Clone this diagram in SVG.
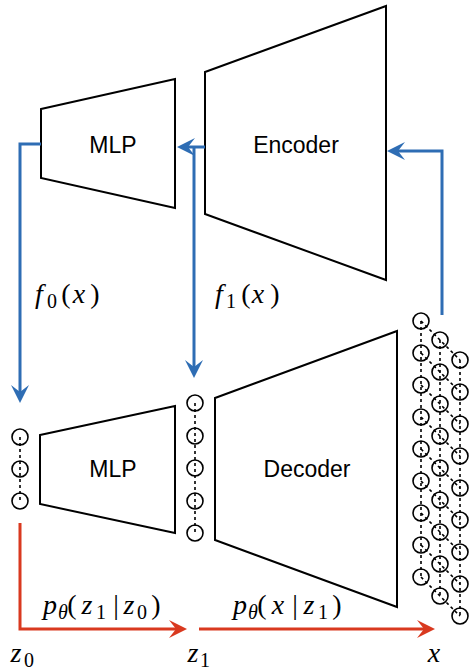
<svg xmlns="http://www.w3.org/2000/svg" width="472" height="670" viewBox="0 0 472 670">
<style>
.shape{fill:#fff;stroke:#000;stroke-width:2;stroke-linejoin:miter}
.lbl{font-family:"Liberation Sans",Arial,Helvetica,sans-serif;font-size:23px;fill:#000;text-anchor:middle}
.m{font-family:'Liberation Serif','Times New Roman',serif;font-style:italic;fill:#000;text-anchor:middle;font-size:28px}
.u{font-style:normal}
.s{font-size:20px}
.node{fill:none;stroke:#000;stroke-width:1.6}
.dash{fill:none;stroke:#000;stroke-width:1.6;stroke-dasharray:3 3}
.blue{fill:none;stroke:#2E6DB4;stroke-width:3;marker-end:url(#ab)}
.red{fill:none;stroke:#D9391F;stroke-width:3;marker-end:url(#ar)}
</style>
<defs>
<marker id="ab" viewBox="0 0 18 18" refX="7" refY="9" markerWidth="18" markerHeight="18" markerUnits="userSpaceOnUse" orient="auto"><path d="M0,0 L18,9 L0,18 L7,9 Z" fill="#2E6DB4"/></marker>
<marker id="ar" viewBox="0 0 18 18" refX="7" refY="9" markerWidth="18" markerHeight="18" markerUnits="userSpaceOnUse" orient="auto"><path d="M0,0 L18,9 L0,18 L7,9 Z" fill="#D9391F"/></marker>
</defs>
<rect width="472" height="670" fill="#fff"/>

<g id="mlp-top">
<polygon class="shape" points="41,109 175,79 175,208 41,178"/>
<text class="lbl" x="113" y="153">MLP</text>
</g>
<g id="encoder">
<polygon class="shape" points="205,72 386,6 386,280 205,214"/>
<text class="lbl" x="296" y="153">Encoder</text>
</g>
<g id="mlp-bottom">
<polygon class="shape" points="40,435 175,406 175,533 40,504"/>
<text class="lbl" x="113" y="477">MLP</text>
</g>
<g id="decoder">
<polygon class="shape" points="215,398 397,331 397,607 215,540"/>
<text class="lbl" x="307" y="477">Decoder</text>
</g>

<g id="z0-nodes">
<path class="dash" d="M20,437 V501"/>
<circle class="node" cx="20" cy="437" r="8"/>
<circle class="node" cx="20" cy="469" r="8"/>
<circle class="node" cx="20" cy="501" r="8"/>
</g>
<g id="z1-nodes">
<path class="dash" d="M195,403 V533"/>
<circle class="node" cx="195" cy="403" r="8"/>
<circle class="node" cx="195" cy="436" r="8"/>
<circle class="node" cx="195" cy="468" r="8"/>
<circle class="node" cx="195" cy="501" r="8"/>
<circle class="node" cx="195" cy="533" r="8"/>
</g>
<g id="x-nodes">
<path class="dash" d="M421,321 V577 M440,340 V596 M460,360 V616"/>
<path class="dash" d="M421,321 L440,340 L460,360 M421,353 L440,372 L460,392 M421,385 L440,404 L460,424 M421,417 L440,436 L460,456 M421,449 L440,468 L460,488 M421,481 L440,500 L460,520 M421,513 L440,532 L460,552 M421,545 L440,564 L460,584 M421,577 L440,596 L460,616"/>
<g>
<circle class="node" cx="421" cy="321" r="8"/><circle class="node" cx="421" cy="353" r="8"/><circle class="node" cx="421" cy="385" r="8"/><circle class="node" cx="421" cy="417" r="8"/><circle class="node" cx="421" cy="449" r="8"/><circle class="node" cx="421" cy="481" r="8"/><circle class="node" cx="421" cy="513" r="8"/><circle class="node" cx="421" cy="545" r="8"/><circle class="node" cx="421" cy="577" r="8"/>
<circle class="node" cx="440" cy="340" r="8"/><circle class="node" cx="440" cy="372" r="8"/><circle class="node" cx="440" cy="404" r="8"/><circle class="node" cx="440" cy="436" r="8"/><circle class="node" cx="440" cy="468" r="8"/><circle class="node" cx="440" cy="500" r="8"/><circle class="node" cx="440" cy="532" r="8"/><circle class="node" cx="440" cy="564" r="8"/><circle class="node" cx="440" cy="596" r="8"/>
<circle class="node" cx="460" cy="360" r="8"/><circle class="node" cx="460" cy="392" r="8"/><circle class="node" cx="460" cy="424" r="8"/><circle class="node" cx="460" cy="456" r="8"/><circle class="node" cx="460" cy="488" r="8"/><circle class="node" cx="460" cy="520" r="8"/><circle class="node" cx="460" cy="552" r="8"/><circle class="node" cx="460" cy="584" r="8"/><circle class="node" cx="460" cy="616" r="8"/>
</g>
</g>

<g id="connectors">
<path class="blue" d="M205,147 H188"/>
<path class="blue" d="M194,147 V367"/>
<path class="blue" d="M41,144 H20 V392"/>
<path class="blue" d="M442,315 V151 H398"/>
<path class="red" d="M20,523 V629 H176"/>
<path class="red" d="M199,629 H424"/>
</g>

<g id="labels">
<text class="m" y="303"><tspan x="39">f</tspan><tspan class="u s" x="52" y="308">0</tspan><tspan class="u" x="66" y="303">(</tspan><tspan x="79">x</tspan><tspan class="u" x="95">)</tspan></text>
<text class="m" y="303"><tspan x="219">f</tspan><tspan class="u s" x="231" y="308">1</tspan><tspan class="u" x="246" y="303">(</tspan><tspan x="258">x</tspan><tspan class="u" x="275">)</tspan></text>
<text class="m" y="614"><tspan x="50">p</tspan><tspan class="s" x="63" y="619">θ</tspan><tspan class="u" x="72" y="614">(</tspan><tspan x="87">z</tspan><tspan class="u s" x="101" y="619">1</tspan><tspan class="u" x="116" y="614">|</tspan><tspan x="129">z</tspan><tspan class="u s" x="142" y="619">0</tspan><tspan class="u" x="156" y="614">)</tspan></text>
<text class="m" y="614"><tspan x="240">p</tspan><tspan class="s" x="253" y="619">θ</tspan><tspan class="u" x="262" y="614">(</tspan><tspan x="278">x</tspan><tspan class="u" x="295">|</tspan><tspan x="309">z</tspan><tspan class="u s" x="323" y="619">1</tspan><tspan class="u" x="337" y="614">)</tspan></text>
<text class="m" y="662"><tspan x="16">z</tspan><tspan class="u s" x="29" y="667">0</tspan></text>
<text class="m" y="662"><tspan x="193">z</tspan><tspan class="u s" x="205" y="667">1</tspan></text>
<text class="m" x="434" y="662">x</text>
</g>
</svg>
